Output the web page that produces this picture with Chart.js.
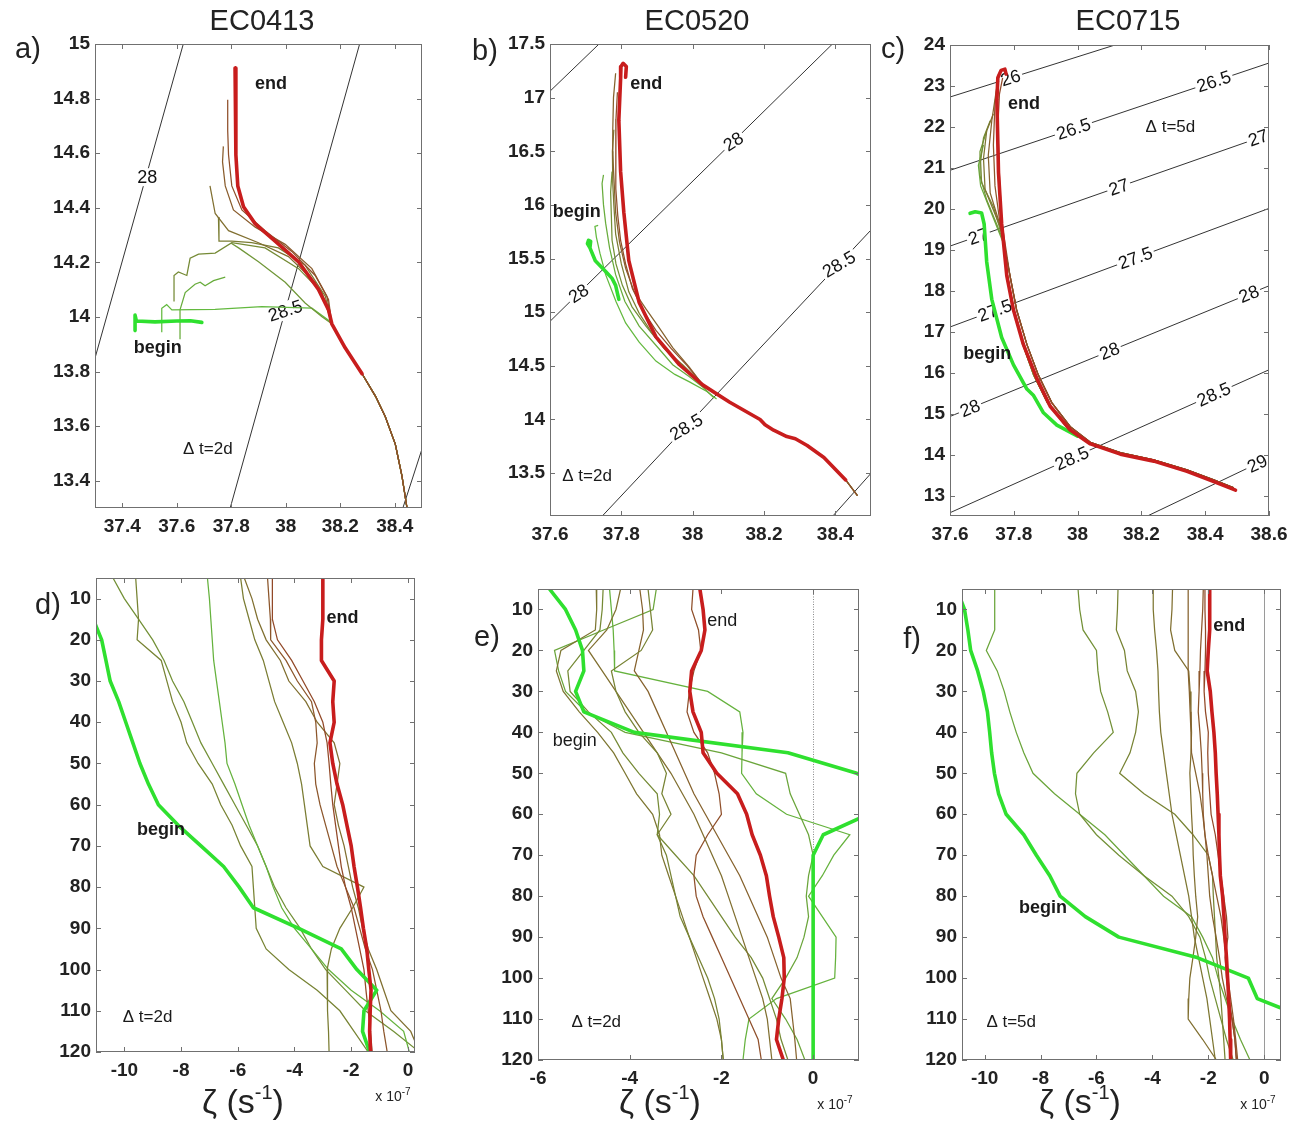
<!DOCTYPE html>
<html><head><meta charset="utf-8">
<script src="https://cdn.jsdelivr.net/npm/chart.js@4.4.1/dist/chart.umd.min.js"></script>
<style>
html,body{margin:0;padding:0;background:#fff}
body{width:1296px;height:1121px;position:relative;overflow:hidden;font-family:"Liberation Sans",Arial,Helvetica,sans-serif;color:#222}
.cv{position:absolute}
.t{position:absolute;white-space:nowrap;transform:translate(-50%,-50%);z-index:5;line-height:1}
.title{font-size:29px}
.plab{font-size:29px}
.zl{font-size:34px}
.zl sup{font-size:20px;vertical-align:14px}
.sc{font-size:14px}
.sc sup{font-size:10px;vertical-align:6px}
</style></head><body>
<div class="t title" style="left:262px;top:20px">EC0413</div>
<div class="t title" style="left:697px;top:20px">EC0520</div>
<div class="t title" style="left:1128px;top:20px">EC0715</div>
<div class="t plab" style="left:28px;top:48px">a)</div>
<div class="t plab" style="left:485px;top:50px">b)</div>
<div class="t plab" style="left:893px;top:48px">c)</div>
<div class="t plab" style="left:48px;top:604px">d)</div>
<div class="t plab" style="left:487px;top:636px">e)</div>
<div class="t plab" style="left:912px;top:638px">f)</div>
<div class="t zl" style="left:243px;top:1100px">ζ (s<sup>-1</sup>)</div>
<div class="t zl" style="left:660px;top:1100px">ζ (s<sup>-1</sup>)</div>
<div class="t zl" style="left:1080px;top:1100px">ζ (s<sup>-1</sup>)</div>
<div class="t sc" style="left:393px;top:1095px">x 10<sup>-7</sup></div>
<div class="t sc" style="left:835px;top:1103px">x 10<sup>-7</sup></div>
<div class="t sc" style="left:1258px;top:1103px">x 10<sup>-7</sup></div>
<script>
// ---------------- DATA ----------------
// Tick labels
const A_X_TICKS = [37.4,37.6,37.8,38,38.2,38.4];
const A_Y_TICKS = [13.4,13.6,13.8,14,14.2,14.4,14.6,14.8,15];
const B_X_TICKS = [37.6,37.8,38,38.2,38.4];
const B_Y_TICKS = [13.5,14,14.5,15,15.5,16,16.5,17,17.5];
const C_X_TICKS = [37.6,37.8,38,38.2,38.4,38.6];
const C_Y_TICKS = [13,14,15,16,17,18,19,20,21,22,23,24];
const D_X_TICKS = [-10,-8,-6,-4,-2,0];
const E_X_TICKS = [-6,-4,-2,0];
const F_X_TICKS = [-10,-8,-6,-4,-2,0];
const DEPTH_TICKS = [10,20,30,40,50,60,70,80,90,100,110,120];
const DEPTHS = [5,10,15,20,25,30,35,40,45,50,55,60,65,70,75,80,85,90,95,100,105,110,115,120];

// ---- Panel a (salinity, temperature) ----
const A_TAIL = [[38.169,13.975],[38.218,13.887],[38.28,13.792],[38.329,13.71],[38.365,13.635],[38.402,13.534],[38.426,13.42],[38.445,13.3],[38.452,13.25]];
const A_END = [[37.814,14.912],[37.817,14.783],[37.817,14.594],[37.824,14.48],[37.845,14.404],[37.888,14.341],[37.961,14.278],[38.047,14.202],[38.12,14.101],[38.157,14.026],[38.169,13.975],[38.218,13.887],[38.28,13.792]];
const A_BEGIN = [[37.447,13.95],[37.447,14.007],[37.452,13.985],[37.52,13.982],[37.6,13.985],[37.65,13.986],[37.692,13.98]];
const A_T1 = [[37.787,14.796],[37.787,14.682],[37.79,14.594],[37.802,14.48],[37.839,14.392],[37.924,14.316],[38.022,14.24],[38.108,14.152],[38.157,14.064]];
const A_T2 = [[37.771,14.625],[37.768,14.568],[37.778,14.48],[37.808,14.392],[37.888,14.329],[37.998,14.266],[38.096,14.177],[38.151,14.076]];
const A_T3 = [[37.722,14.48],[37.741,14.379],[37.79,14.316],[37.9,14.272],[38.01,14.221],[38.108,14.127],[38.157,14.026]];
const A_T4 = [[37.753,14.366],[37.755,14.278],[37.802,14.278],[37.875,14.272],[37.973,14.253],[38.071,14.19],[38.145,14.076]];
const A_T5 = [[37.59,14.057],[37.59,14.152],[37.606,14.165],[37.637,14.152],[37.649,14.215],[37.68,14.23],[37.741,14.234],[37.802,14.272],[37.924,14.253],[38.047,14.177],[38.133,14.089]];
const A_T6 = [[37.8,14.27],[37.827,14.253],[37.9,14.202],[37.998,14.127],[38.071,14.051],[38.133,14.001]];
const A_T7 = [[37.545,13.944],[37.545,14.032],[37.563,14.045],[37.582,14.026],[37.741,14.028],[37.912,14.038],[38.096,14.032],[38.157,13.988]];
const A_T8 = [[37.612,13.918],[37.612,14.026],[37.631,14.089],[37.667,14.12],[37.686,14.127],[37.704,14.114],[37.735,14.133],[37.778,14.146]];
const A_CONTOURS = [[[37.2,13.494],[37.7,15.27]],[[37.75,13.135],[38.32,15.175]],[[38.42,13.27],[38.55,13.67]]];
const A_CLABELS = [{t:'28',c:0,x:37.492,y:14.512},{t:'28.5',c:1,x:37.998,y:14.023}];
const A_NOTES = [{t:'end',x:37.946,y:14.852},{t:'begin',x:37.53,y:13.887},{t:'Δ t=2d',x:37.714,y:13.515}];

// ---- Panel b ----
const B_TAIL = [[38.029,14.32],[38.104,14.16],[38.189,14.0],[38.203,13.95],[38.227,13.9],[38.264,13.84],[38.288,13.82],[38.321,13.757],[38.368,13.645],[38.429,13.436],[38.462,13.29]];
const B_END = [[37.812,17.19],[37.814,17.29],[37.805,17.32],[37.799,17.29],[37.798,17.18],[37.793,16.79],[37.798,16.31],[37.807,15.93],[37.821,15.48],[37.85,15.09],[37.897,14.77],[37.963,14.51],[38.029,14.32],[38.104,14.16],[38.189,14.0],[38.203,13.95],[38.227,13.9],[38.264,13.84],[38.288,13.82],[38.321,13.757],[38.368,13.645],[38.429,13.436]];
const B_BEGIN = [[37.712,15.6],[37.705,15.64],[37.708,15.67],[37.714,15.66],[37.712,15.6],[37.727,15.48],[37.756,15.38],[37.774,15.315],[37.784,15.25],[37.793,15.12]];
const B_T1 = [[37.735,15.81],[37.726,15.8],[37.73,15.7],[37.74,15.55],[37.756,15.35],[37.785,15.1],[37.812,14.9],[37.85,14.72],[37.897,14.544],[37.95,14.42],[37.991,14.35],[38.04,14.26],[38.067,14.19]];
const B_T2 = [[37.75,16.28],[37.746,16.2],[37.75,16.0],[37.756,15.83],[37.767,15.6],[37.784,15.35],[37.81,15.1],[37.85,14.87],[37.9,14.68],[37.944,14.51],[37.99,14.4],[38.029,14.3],[38.06,14.2]];
const B_T3 = [[37.774,16.31],[37.77,16.12],[37.772,15.9],[37.774,15.67],[37.785,15.45],[37.803,15.25],[37.83,15.05],[37.869,14.87],[37.92,14.66],[37.97,14.5],[38.02,14.36]];
const B_T4 = [[37.779,16.7],[37.775,16.5],[37.776,16.2],[37.779,16.0],[37.784,15.73],[37.8,15.45],[37.821,15.19],[37.85,14.99],[37.887,14.8],[37.93,14.63],[37.972,14.51],[38.0,14.42]];
const B_T5 = [[37.784,17.227],[37.778,17.0],[37.776,16.7],[37.776,16.47],[37.78,16.2],[37.784,15.93],[37.795,15.65],[37.812,15.41],[37.835,15.2],[37.869,15.03],[37.905,14.86],[37.944,14.67],[37.99,14.49]];
const B_T6 = [[37.789,17.05],[37.785,16.8],[37.784,16.5],[37.785,16.15],[37.79,15.9],[37.798,15.67],[37.812,15.45],[37.831,15.22],[37.86,15.02],[37.897,14.83],[37.94,14.66],[37.985,14.5]];
const B_CONTOURS = [[[37.5,14.588],[38.5,17.853]],[[37.7,12.935],[38.6,16.12]],[[38.35,12.94],[38.6,13.87]],[[37.5,16.74],[37.8,17.7]]];
const B_CLABELS = [{t:'28',c:0,x:37.68,y:15.175},{t:'28',c:0,x:38.114,y:16.59},{t:'28.5',c:1,x:37.982,y:13.93},{t:'28.5',c:1,x:38.41,y:15.447}];
const B_NOTES = [{t:'end',x:37.87,y:17.13},{t:'begin',x:37.675,y:15.93},{t:'Δ t=2d',x:37.704,y:13.47}];

// ---- Panel c ----
const C_TAIL = [[37.788,18.37],[37.809,17.53],[37.841,16.69],[37.877,15.94],[37.919,15.27],[37.977,14.68],[38.04,14.3],[38.134,14.05],[38.239,13.87],[38.343,13.63],[38.427,13.38],[38.49,13.19]];
const C_TAIL_G = [[37.78,18.37],[37.8,17.53],[37.828,16.69],[37.862,15.94],[37.905,15.27],[37.965,14.68],[38.03,14.3],[38.13,14.04],[38.239,13.86],[38.343,13.62],[38.427,13.37],[38.49,13.18]];
const C_END = [[37.776,23.29],[37.772,23.41],[37.76,23.38],[37.75,23.2],[37.747,22.66],[37.752,20.89],[37.762,19.63],[37.778,18.37],[37.799,17.53],[37.83,16.69],[37.872,15.86],[37.914,15.18],[37.977,14.6],[38.04,14.26],[38.134,14.01],[38.239,13.84],[38.343,13.59],[38.427,13.34],[38.495,13.13]];
const C_BEGIN = [[37.663,19.89],[37.679,19.93],[37.699,19.9],[37.707,19.63],[37.715,18.71],[37.731,17.79],[37.762,16.86],[37.799,16.19],[37.841,15.6],[37.862,15.44],[37.893,15.02],[37.935,14.72],[38.0,14.45]];
const C_T0 = [[37.765,23.2],[37.755,22.8],[37.75,22.0],[37.755,20.8],[37.762,19.7]];
const C_T1 = [[37.752,23.29],[37.741,22.57],[37.736,21.56],[37.741,20.56],[37.757,19.63]];
const C_T2 = [[37.747,22.99],[37.731,22.15],[37.72,21.31],[37.726,20.39],[37.759,19.55]];
const C_T3 = [[37.736,22.32],[37.715,21.9],[37.705,21.23],[37.71,20.47],[37.762,19.47]];
const C_T4 = [[37.726,22.15],[37.705,21.73],[37.696,21.15],[37.699,20.64],[37.736,20.05],[37.765,19.3]];
const C_T5 = [[37.715,21.9],[37.694,21.4],[37.694,20.81],[37.715,20.22],[37.768,19.21]];
const C_T6 = [[37.705,21.56],[37.689,21.06],[37.696,20.56],[37.726,19.97],[37.773,19.05]];
const C_CONTOURS = [[[37.5,22.484],[38.2,24.204]],[[37.5,20.678],[38.7,23.822]],[[37.5,18.817],[38.7,22.093]],[[37.5,16.825],[38.7,20.3]],[[37.5,14.611],[38.7,18.439]],[[37.5,12.231],[38.7,16.419]],[[38.1,12.058],[38.7,14.29]]];
const C_CLABELS = [{t:'26',c:0,x:37.79,y:23.2},{t:'26.5',c:1,x:37.987,y:21.95},{t:'26.5',c:1,x:38.427,y:23.11},
 {t:'27',c:2,x:37.689,y:19.33},{t:'27',c:2,x:38.129,y:20.53},{t:'27',c:2,x:38.566,y:21.73},
 {t:'27.5',c:3,x:37.741,y:17.52},{t:'27.5',c:3,x:38.181,y:18.8},
 {t:'28',c:4,x:37.663,y:15.13},{t:'28',c:4,x:38.10,y:16.53},{t:'28',c:4,x:38.537,y:17.92},
 {t:'28.5',c:5,x:37.982,y:13.91},{t:'28.5',c:5,x:38.427,y:15.47},{t:'29',c:6,x:38.563,y:13.78}];
const C_NOTES = [{t:'end',x:37.832,y:22.57},{t:'begin',x:37.717,y:16.46},{t:'Δ t=5d',x:38.291,y:21.98}];

// ---- Panel d (vorticity profiles, x 1e-7 s^-1, at DEPTHS) ----
const D_END = [-3.0,-3.0,-3.0,-3.05,-3.05,-2.6,-2.65,-2.6,-2.75,-2.65,-2.5,-2.3,-2.15,-2.0,-1.9,-1.78,-1.67,-1.57,-1.45,-1.38,-1.3,-1.33,-1.35,-1.32];
const D_BEGIN = [null,null,-11.1,-10.8,-10.65,-10.5,-10.2,-9.95,-9.7,-9.45,-9.15,-8.8,-8.1,-7.3,-6.5,-5.95,-5.45,-3.85,-2.35,-1.8,-1.1,-1.55,-1.6,-1.35];
const D_T1 = [-10.4,-10.0,-9.5,-9.0,-8.6,-8.3,-7.9,-7.6,-7.3,-6.9,-6.5,-6.1,-5.7,-5.3,-5.0,-4.7,-4.3,-3.8,-3.4,-2.9,-2.2,-1.5,-0.5,0.4];
const D_T2 = [-9.6,-9.55,-9.5,-9.55,-8.7,-8.5,-8.3,-8.0,-7.8,-7.4,-6.9,-6.6,-6.2,-5.9,-5.5,-5.45,-5.4,-5.35,-5.0,-4.2,-3.2,-2.4,-1.9,-1.4];
const D_T3 = [-7.07,-7.0,-6.95,-6.9,-6.85,-6.75,-6.65,-6.55,-6.45,-6.38,-6.1,-5.85,-5.6,-5.3,-5.0,-4.75,-4.45,-4.0,-3.4,-2.8,-2.0,-1.0,-0.15,0.05];
const D_T4 = [-5.9,-5.8,-5.6,-5.4,-5.1,-4.9,-4.7,-4.4,-4.1,-3.9,-3.75,-3.65,-3.55,-3.45,-3.0,-1.55,-1.95,-2.4,-2.7,-2.85,-2.85,-2.82,-2.8,-2.78];
const D_T5 = [-5.77,-5.5,-5.3,-5.0,-4.5,-4.2,-3.6,-3.2,-2.6,-2.4,-2.5,-2.6,-2.45,-2.25,-2.1,-1.95,-1.75,-1.6,-1.4,-1.1,-0.85,-0.6,0.1,0.4];
const D_T6 = [-4.95,-4.9,-4.85,-4.84,-4.3,-3.9,-3.4,-3.25,-3.2,-3.3,-3.25,-3.1,-2.9,-2.7,-2.5,-2.2,-1.9,-1.7,-1.5,-1.25,-1.1,-0.95,-0.85,-0.73];
const D_T7 = [-4.78,-4.78,-4.78,-4.6,-4.1,-3.7,-3.3,-3.0,-2.85,-2.78,-2.72,-2.65,-2.55,-2.45,-2.35,-2.2,-2.0,-1.85,-1.7,-1.55,-1.48,-1.4,-1.32,-1.26];
const D_NOTES = [{t:'end',x:-2.31,y:14.8},{t:'begin',x:-8.71,y:66.2},{t:'Δ t=2d',x:-9.18,y:111.7}];

// ---- Panel e ----
const E_END = [-2.47,-2.4,-2.36,-2.44,-2.65,-2.69,-2.62,-2.44,-2.4,-2.1,-1.65,-1.45,-1.33,-1.15,-1.02,-0.95,-0.87,-0.75,-0.64,-0.63,-0.68,-0.75,-0.8,-0.65];
const E_BEGIN = [-5.75,-5.4,-5.18,-5.03,-5.0,-5.18,-5.0,-3.9,-0.55,0.95,1.8,1.2,0.22,0.0,0,0,0,0,0,0,0,0,0,0];
const E_T1 = [-4.44,-4.4,-4.36,-4.34,-4.33,-2.3,-1.6,-1.53,-1.55,-1.56,-1.24,-0.58,0.8,0.45,0.2,-0.1,0.2,0.5,0.49,0.47,-0.8,-1.4,-1.48,-1.53];
const E_T2 = [-3.42,-3.49,-4.57,-5.64,-5.55,-5.4,-4.95,-4.1,-2.0,-0.6,-0.5,-0.3,-0.1,0.0,-0.1,-0.15,-0.1,-0.2,-0.35,-0.6,-0.9,-0.6,-0.35,-0.18];
const E_T3 = [-4.73,-4.72,-4.75,-5.5,-5.6,-5.45,-5.1,-4.7,-4.35,-4.1,-3.85,-3.5,-3.35,-3.3,-3.15,-3.0,-2.85,-2.7,-2.55,-2.4,-2.25,-2.1,-2.0,-1.96];
const E_T4 = [-4.58,-4.6,-4.65,-5.0,-5.35,-5.3,-4.9,-4.4,-4.15,-3.8,-3.4,-3.35,-3.4,-3.0,-2.6,-2.3,-2.0,-1.7,-1.35,-1.1,-0.95,-0.8,-0.7,-0.55];
const E_T5 = [-3.78,-3.72,-3.7,-3.8,-3.9,-3.6,-3.4,-3.2,-3.0,-2.8,-2.6,-2.35,-2.1,-1.85,-1.6,-1.4,-1.2,-1.0,-0.85,-0.7,-0.5,-0.45,-0.4,-0.36];
const E_T6 = [-2.62,-2.65,-2.5,-2.45,-2.6,-2.7,-2.75,-2.6,-2.3,-2.15,-2.05,-2.0,-2.3,-2.55,-2.6,-2.55,-2.4,-2.2,-2.0,-1.8,-1.6,-1.4,-1.2,-1.13];
const E_T7 = [-4.2,-4.3,-4.5,-4.9,-4.6,-4.3,-4.0,-3.7,-3.4,-3.1,-2.85,-2.6,-2.4,-2.2,-2.0,-1.85,-1.7,-1.55,-1.4,-1.25,-1.1,-1.0,-0.95,-0.9];
const E_T8 = [-3.6,-3.55,-3.5,-3.75,-4.4,-4.3,-4.1,-3.8,-3.4,-3.2,-3.3,-3.1,-3.4,-3.2,-3.1,-3.0,-2.9,-2.7,-2.5,-2.3,-2.15,-2.05,-2.0,-1.96];
const E_NOTES = [{t:'end',x:-1.98,y:12.9},{t:'begin',x:-5.2,y:42.2},{t:'Δ t=2d',x:-4.73,y:110.8}];

// ---- Panel f ----
const F_END = [-1.95,-1.95,-1.95,-2.0,-2.04,-1.93,-1.87,-1.8,-1.75,-1.72,-1.68,-1.65,-1.62,-1.6,-1.57,-1.49,-1.44,-1.4,-1.35,-1.31,-1.27,-1.24,-1.22,-1.2];
const F_BEGIN = [-11.0,-10.72,-10.6,-10.5,-10.25,-10.05,-9.9,-9.82,-9.75,-9.65,-9.5,-9.23,-8.6,-8.15,-7.67,-7.3,-6.4,-5.2,-2.4,-0.57,-0.25,1.6,2.5,3.0];
const F_T1 = [-9.64,-9.64,-9.64,-9.94,-9.55,-9.3,-9.1,-8.87,-8.6,-8.27,-7.5,-6.6,-5.7,-5.0,-4.3,-3.6,-2.6,-2.2,-1.85,-1.65,-1.4,-1.15,-0.85,-0.51];
const F_T2 = [-6.66,-6.6,-6.48,-6.0,-5.95,-5.85,-5.6,-5.4,-6.1,-6.7,-6.75,-6.6,-6.0,-5.2,-4.3,-3.3,-2.7,-2.3,-2.1,-1.95,-1.75,-1.55,-1.35,-1.11];
const F_T3 = [-5.23,-5.25,-5.29,-5.0,-4.9,-4.6,-4.5,-4.6,-4.8,-5.17,-4.3,-3.2,-2.55,-2.0,-1.85,-1.82,-1.78,-1.74,-1.7,-1.62,-1.55,-1.5,-1.45,-1.4];
const F_T4 = [-3.97,-3.97,-3.92,-3.85,-3.8,-3.78,-3.75,-3.7,-3.6,-3.5,-3.4,-3.3,-3.15,-3.0,-2.85,-2.7,-2.6,-2.5,-2.35,-2.2,-2.05,-1.95,-1.85,-1.75];
const F_T5 = [-3.28,-3.3,-3.35,-3.2,-2.7,-2.65,-2.62,-2.6,-2.62,-2.66,-2.63,-2.6,-2.56,-2.54,-2.5,-2.45,-2.38,-2.45,-2.55,-2.66,-2.7,-2.72,-2.2,-1.71];
const F_T6 = [-2.72,-2.72,-2.72,-2.72,-2.72,-2.68,-2.65,-2.62,-2.6,-2.45,-2.3,-2.2,-2.12,-2.05,-2.0,-1.95,-1.85,-1.72,-1.6,-1.5,-1.35,-1.15,-1.05,-0.99];
const F_T7 = [-2.18,-2.2,-2.24,-2.28,-2.3,-2.33,-2.36,-2.3,-2.25,-2.22,-2.2,-2.18,-2.12,-2.0,-1.85,-1.7,-1.55,-1.45,-1.35,-1.3,-1.2,-1.1,-1.02,-0.95];
const F_T8 = [-2.12,-2.12,-2.1,-2.1,-2.12,-2.15,-2.1,-2.0,-2.02,-2.0,-1.95,-1.9,-1.75,-1.65,-1.55,-1.45,-1.35,-1.3,-1.4,-1.35,-1.25,-1.15,-1.05,-1.0];
const F_NOTES = [{t:'end',x:-1.25,y:14.0},{t:'begin',x:-7.91,y:83.0},{t:'Δ t=5d',x:-9.05,y:110.8}];

// ---------------- STYLE / LAYOUT ----------------
const PADL=75, PADT=12, PADR=26, PADB=42;
const FONT='"Liberation Sans", Arial, Helvetica, sans-serif';
const BEGIN_COLOR='#2fe02f', END_COLOR='#c81d1d';
function mix(t){
  const s=[[96,192,64],[122,124,50],[152,60,38]];
  let a,b,u; if(t<0.5){a=s[0];b=s[1];u=t/0.5}else{a=s[1];b=s[2];u=(t-0.5)/0.5}
  return 'rgb('+a.map((v,i)=>Math.round(v+(b[i]-v)*u)).join(',')+')';
}
const PANELS = [
 {id:'ca', rect:[95,44,422,508], xr:[37.3,38.5], yr:[13.3,15], xt:A_X_TICKS, yt:A_Y_TICKS, rev:false,
  contours:A_CONTOURS, clabels:A_CLABELS, cangles:[0,-18],
  thin:[A_T8.slice(),A_T7.concat(A_TAIL),A_T6.concat(A_TAIL),A_T5.concat(A_TAIL),A_T4.concat(A_TAIL),A_T3.concat(A_TAIL),A_T2.concat(A_TAIL),A_T1.concat(A_TAIL)],
  mixes:[0.15,0.05,0.3,0.4,0.5,0.6,0.75,0.85], begin:A_BEGIN, end:A_END, notes:A_NOTES, bold:true},
 {id:'cb', rect:[550,44,871,516], xr:[37.6,38.5], yr:[13.1,17.5], xt:B_X_TICKS, yt:B_Y_TICKS, rev:false,
  contours:B_CONTOURS, clabels:B_CLABELS, cangles:[-33,-33,-31,-31],
  thin:[B_T1,B_T2,B_T3.concat(B_TAIL),B_T4.concat(B_TAIL),B_T5.concat(B_TAIL),B_T6.concat(B_TAIL)],
  mixes:[0.05,0.15,0.35,0.5,0.7,0.85], begin:B_BEGIN, end:B_END, notes:B_NOTES, bold:true},
 {id:'cc', rect:[950,45,1269,516], xr:[37.6,38.6], yr:[12.5,24], xt:C_X_TICKS, yt:C_Y_TICKS, rev:false,
  contours:C_CONTOURS, clabels:C_CLABELS, cangles:[-17,-18,-18,-19,-19,-19,-20,-20,-22,-22,-22,-24,-24,-25],
  thin:[C_T6.concat(C_TAIL_G),C_T5.concat(C_TAIL_G),C_T4.concat(C_TAIL_G),C_T3.concat(C_TAIL),C_T2.concat(C_TAIL),C_T1.concat(C_TAIL),C_T0.concat(C_TAIL)],
  mixes:[0.15,0.3,0.4,0.55,0.7,0.8,0.9], begin:C_BEGIN, end:C_END, notes:C_NOTES, bold:true},
 {id:'cd', rect:[96,578,415,1052], xr:[-11,0.25], yr:[5,120], xt:D_X_TICKS, yt:DEPTH_TICKS, rev:true,
  thin:[D_T1,D_T2,D_T3,D_T4,D_T5,D_T6,D_T7], mixes:[0.35,0.45,0.1,0.5,0.6,0.8,0.9],
  begin:D_BEGIN, end:D_END, notes:D_NOTES, bold:true},
 {id:'ce', rect:[538,589,859,1060], xr:[-6,1], yr:[5,120], xt:E_X_TICKS, yt:DEPTH_TICKS, rev:true, zero:'dot',
  thin:[E_T1,E_T2,E_T3,E_T4,E_T5,E_T6,E_T7,E_T8], mixes:[0.1,0.2,0.55,0.4,0.7,0.85,0.6,0.45],
  begin:E_BEGIN, end:E_END, notes:E_NOTES, bold:false},
 {id:'cf', rect:[962,589,1281,1060], xr:[-10.81,0.6], yr:[5,120], xt:F_X_TICKS, yt:DEPTH_TICKS, rev:true, zero:'solid',
  thin:[F_T1,F_T2,F_T3,F_T4,F_T5,F_T6,F_T7,F_T8], mixes:[0.2,0.35,0.45,0.55,0.6,0.7,0.8,0.9],
  begin:F_BEGIN, end:F_END, notes:F_NOTES, bold:true}
];
const PMAP = {};
function pts(s){
  if(Array.isArray(s[0])) return s.map(p=>({x:p[0],y:p[1]}));
  return s.map((v,i)=>v==null?null:{x:v,y:DEPTHS[i]}).filter(Boolean);
}
function fmt(v){return String(Number(v.toFixed(3)));}
function noPad(s){s.paddingTop=0;s.paddingBottom=0;s.paddingLeft=0;s.paddingRight=0;}

const deco = {
  id:'deco',
  beforeDatasetsDraw(chart){
    const p=PMAP[chart.canvas.id]; if(!p.zero) return;
    const ctx=chart.ctx, ca=chart.chartArea;
    const x=Math.round(chart.scales.x.getPixelForValue(0))+0.5;
    ctx.save(); ctx.lineWidth=1;
    if(p.zero==='dot'){ctx.strokeStyle='#8a8a8a'; ctx.setLineDash([1,1.5]);} else {ctx.strokeStyle='#9a9a9a';}
    ctx.beginPath(); ctx.moveTo(x,ca.top); ctx.lineTo(x,ca.bottom); ctx.stroke(); ctx.restore();
  },
  afterDatasetDraw(chart,args){
    const p=PMAP[chart.canvas.id]; const ds=chart.data.datasets[args.index];
    if(ds.contourIndex==null||!p.clabels) return;
    const ctx=chart.ctx, xs=chart.scales.x, ys=chart.scales.y;
    ctx.save(); ctx.font='18px '+FONT; ctx.textAlign='center'; ctx.textBaseline='middle';
    p.clabels.forEach((l,i)=>{
      if(l.c!==ds.contourIndex) return;
      const px=xs.getPixelForValue(l.x), py=ys.getPixelForValue(l.y);
      const w=ctx.measureText(l.t).width;
      ctx.save(); ctx.translate(px,py); ctx.rotate(p.cangles[i]*Math.PI/180);
      ctx.fillStyle='#fff'; ctx.fillRect(-w/2-2,-9,w+4,18);
      ctx.fillStyle='#111'; ctx.fillText(l.t,0,1); ctx.restore();
    });
    ctx.restore();
  },
  afterDatasetsDraw(chart){
    const p=PMAP[chart.canvas.id]; const ctx=chart.ctx, ca=chart.chartArea;
    const xs=chart.scales.x, ys=chart.scales.y;
    ctx.save();
    ctx.strokeStyle='#707070'; ctx.lineWidth=1;
    ctx.strokeRect(Math.round(ca.left)+0.5,Math.round(ca.top)+0.5,Math.round(ca.right-ca.left)-1,Math.round(ca.bottom-ca.top)-1);
    ctx.beginPath();
    p.xt.forEach(v=>{const x=Math.round(xs.getPixelForValue(v))+0.5;
      ctx.moveTo(x,ca.bottom); ctx.lineTo(x,ca.bottom-5); ctx.moveTo(x,ca.top); ctx.lineTo(x,ca.top+5);});
    p.yt.forEach(v=>{const y=Math.round(ys.getPixelForValue(v))+0.5;
      ctx.moveTo(ca.left,y); ctx.lineTo(ca.left+5,y); ctx.moveTo(ca.right,y); ctx.lineTo(ca.right-5,y);});
    ctx.stroke();
    ctx.fillStyle='#1a1a1a'; ctx.textAlign='center'; ctx.textBaseline='middle';
    p.notes.forEach(n=>{
      const isDt=n.t.charAt(0)==='Δ';
      ctx.font=(isDt?'17px ':(p.bold?'bold 18px ':'18px '))+FONT;
      ctx.fillText(n.t,xs.getPixelForValue(n.x),ys.getPixelForValue(n.y));
    });
    ctx.restore();
  }
};

PANELS.forEach(p=>{
  PMAP[p.id]=p;
  const [l,t,r,b]=p.rect;
  const W=(r-l)+PADL+PADR, H=(b-t)+PADT+PADB;
  const cv=document.createElement('canvas');
  cv.id=p.id; cv.className='cv'; cv.width=W; cv.height=H;
  cv.style.left=(l-PADL)+'px'; cv.style.top=(t-PADT)+'px'; cv.style.width=W+'px'; cv.style.height=H+'px';
  document.body.appendChild(cv);
  const datasets=[];
  (p.contours||[]).forEach((c,k)=>datasets.push({data:pts(c),borderColor:'#1c1c1c',borderWidth:0.9,order:100,contourIndex:k}));
  p.thin.forEach((s,k)=>datasets.push({data:pts(s),borderColor:mix(p.mixes[k]),borderWidth:1.25,order:50-k}));
  datasets.push({data:pts(p.begin),borderColor:BEGIN_COLOR,borderWidth:3.6,order:2,borderJoinStyle:'round',borderCapStyle:'round'});
  datasets.push({data:pts(p.end),borderColor:END_COLOR,borderWidth:3.6,order:1,borderJoinStyle:'round',borderCapStyle:'round'});
  const tickCfg={padding:6,autoSkip:false,maxRotation:0,minRotation:0,color:'#222',font:{family:FONT,size:19,weight:'bold'},callback:fmt};
  new Chart(cv,{
    type:'line',
    data:{datasets},
    options:{
      responsive:false, animation:false, events:[], devicePixelRatio:1,
      layout:{padding:{top:PADT,right:PADR,left:0,bottom:0},autoPadding:false},
      plugins:{legend:{display:false},tooltip:{enabled:false}},
      elements:{point:{radius:0,hitRadius:0},line:{tension:0,fill:false}},
      scales:{
        x:{type:'linear',min:p.xr[0],max:p.xr[1],grid:{display:false,drawTicks:false},border:{display:false},
           afterFit(s){s.height=PADB;noPad(s);}, afterBuildTicks(s){s.ticks=p.xt.map(v=>({value:v}));},
           ticks:Object.assign({},tickCfg,{padding:7})},
        y:{type:'linear',min:p.yr[0],max:p.yr[1],reverse:p.rev,grid:{display:false,drawTicks:false},border:{display:false},
           afterFit(s){s.width=PADL;noPad(s);}, afterBuildTicks(s){s.ticks=p.yt.map(v=>({value:v}));},
           ticks:Object.assign({},tickCfg,{padding:5})}
      }
    },
    plugins:[deco]
  });
});
</script>
</body></html>
